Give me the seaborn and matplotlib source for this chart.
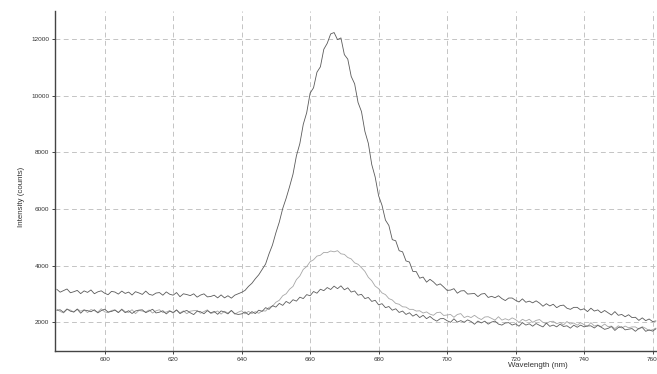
import matplotlib
matplotlib.use("Agg")
import matplotlib.pyplot as plt
import seaborn as sns
import pandas as pd

wavelength = list(range(586, 762))

series_a = [
    3170, 3066, 3123, 3179, 3046, 3082, 3129, 3015, 3112, 3058,
    3145, 3011, 3078, 3114, 3030, 2977, 3094, 3071, 2998, 3105,
    3022, 3069, 2966, 3083, 3040, 2987, 3104, 2991, 2958, 3035,
    3052, 2959, 3076, 2993, 2960, 3053, 2906, 3009, 2982, 2945,
    3008, 2891, 2964, 3007, 2900, 2915, 2960, 2865, 2970, 2865,
    2940, 2855, 2960, 3010, 3060, 3130, 3270, 3380, 3540, 3680,
    3870, 4060, 4420, 4730, 5160, 5540, 6020, 6380, 6790, 7230,
    7880, 8310, 8990, 9400, 10090, 10280, 10830, 11020, 11640, 11850,
    12180, 12230, 11980, 12040, 11450, 11290, 10680, 10420, 9760, 9440,
    8740, 8320, 7570, 7130, 6470, 6130, 5610, 5420, 4920, 4880,
    4530, 4490, 4170, 4130, 3800, 3790, 3560, 3600, 3420, 3520,
    3430, 3310, 3360, 3250, 3130, 3140, 3190, 3030, 3110, 3120,
    3000, 3010, 3020, 2910, 3000, 3020, 2880, 2920, 2870, 2940,
    2840, 2770, 2860, 2860, 2780, 2720, 2830, 2710, 2750, 2690,
    2760, 2680, 2570, 2660, 2580, 2640, 2520, 2590, 2610, 2500,
    2460, 2530, 2530, 2440, 2480, 2380, 2500, 2400, 2440, 2340,
    2420, 2340, 2260, 2380, 2250, 2280, 2200, 2270, 2170, 2180,
    2070, 2160, 2060, 2120, 2030, 2050,
]

series_b = [
    2465, 2385, 2335, 2455, 2435, 2365, 2475, 2395, 2445, 2345,
    2452, 2412, 2362, 2482, 2372, 2342, 2422, 2442, 2352, 2472,
    2379, 2349, 2449, 2309, 2419, 2399, 2369, 2439, 2329, 2409,
    2446, 2346, 2366, 2416, 2326, 2436, 2336, 2406, 2306, 2396,
    2413, 2423, 2323, 2383, 2443, 2313, 2353, 2403, 2293, 2393,
    2330, 2420, 2290, 2360, 2410, 2300, 2390, 2310, 2380, 2320,
    2410, 2400, 2530, 2570, 2710, 2780, 2940, 3010, 3170, 3270,
    3510, 3640, 3870, 3970, 4140, 4210, 4340, 4370, 4470, 4460,
    4520, 4490, 4530, 4420, 4400, 4290, 4240, 4100, 4050, 3930,
    3800, 3590, 3470, 3280, 3190, 3040, 2980, 2840, 2790, 2670,
    2640, 2550, 2540, 2460, 2460, 2400, 2410, 2330, 2370, 2290,
    2250, 2345, 2360, 2245, 2260, 2280, 2180, 2280, 2310, 2170,
    2220, 2170, 2250, 2160, 2100, 2190, 2200, 2140, 2080, 2200,
    2080, 2130, 2080, 2160, 2100, 2000, 2110, 2050, 2110, 2000,
    2070, 2100, 2000, 1960, 2030, 2040, 1950, 2000, 1910, 2030,
    1940, 1980, 1900, 1990, 1920, 1860, 1990, 1870, 1910, 1850,
    1940, 1850, 1870, 1780, 1880, 1800, 1870, 1810, 1840, 1840,
    1760, 1850, 1790, 1710, 1740, 1800,
]

series_c = [
    2425, 2445, 2355, 2475, 2395, 2365, 2465, 2325, 2435, 2415,
    2375, 2445, 2335, 2415, 2465, 2365, 2385, 2435, 2345, 2455,
    2343, 2413, 2313, 2403, 2433, 2443, 2343, 2403, 2463, 2333,
    2360, 2410, 2300, 2400, 2350, 2440, 2310, 2380, 2420, 2340,
    2275, 2395, 2375, 2305, 2415, 2335, 2385, 2285, 2405, 2365,
    2300, 2420, 2310, 2280, 2300, 2370, 2270, 2380, 2310, 2430,
    2390, 2520, 2460, 2590, 2540, 2670, 2600, 2740, 2670, 2800,
    2750, 2890, 2840, 2980, 2940, 3090, 3030, 3170, 3120, 3230,
    3160, 3280, 3190, 3290, 3150, 3220, 3070, 3110, 2960, 2990,
    2840, 2880, 2740, 2780, 2620, 2660, 2520, 2560, 2430, 2480,
    2350, 2400, 2280, 2340, 2220, 2290, 2170, 2250, 2130, 2210,
    2110, 2045, 2130, 2135, 2060, 2003, 2126, 2009, 2062, 2005,
    2088, 2031, 1934, 2047, 1980, 2044, 1938, 2012, 2046, 1940,
    1904, 1978, 1992, 1906, 1950, 1865, 1990, 1905, 1950, 1865,
    1960, 1895, 1840, 1975, 1860, 1906, 1842, 1938, 1854, 1880,
    1796, 1902, 1828, 1904, 1840, 1874, 1878, 1802, 1896, 1830,
    1754, 1788, 1852, 1716, 1820, 1843, 1736, 1759, 1782, 1685,
    1788, 1821, 1684, 1737, 1690, 1773,
]

series_names = ["A", "B", "C"]
x_ticks = [600, 620, 640, 660, 680, 700, 720, 740, 760]
y_ticks = [2000, 4000, 6000, 8000, 10000, 12000]

assert len(series_a) == len(series_b) == len(series_c) == len(wavelength)

df = pd.concat([
    pd.DataFrame({"Wavelength": wavelength, "Intensity": vals, "Series": name})
    for name, vals in zip(series_names, [series_a, series_b, series_c])
], ignore_index=True)

sns.set_style("white")
plt.rcParams["font.family"] = ["Liberation Sans", "DejaVu Sans"]

fig = plt.figure(figsize=(6.57, 3.74), dpi=100)
ax = fig.add_axes([55 / 657, 23 / 374, 602 / 657, 340 / 374])

palette = {"A": "#5a5a5a", "B": "#a6a6a6", "C": "#5e5e5e"}
sns.lineplot(data=df, x="Wavelength", y="Intensity", hue="Series",
             palette=palette, estimator=None, legend=False,
             linewidth=0.6, ax=ax, zorder=3)

ax.set_xlim(585.5, 761.3)
ax.set_ylim(990, 12990)
ax.set_xticks(x_ticks)
ax.set_yticks(y_ticks)
ax.grid(True, color="#c4c4c4", linestyle=(0, (5, 3.5)), linewidth=0.7, zorder=0)

for s in ["top", "right"]:
    ax.spines[s].set_visible(False)
for s in ["left", "bottom"]:
    ax.spines[s].set_color("#444444")
    ax.spines[s].set_linewidth(1.0)

ax.tick_params(axis="both", which="major", labelsize=4.6, length=2.4,
               width=0.7, color="#444444", labelcolor="#333333",
               direction="out", pad=1.8, bottom=True, left=True)

ax.set_xlabel("Wavelength (nm)", fontsize=5.7, color="#333333")
ax.set_ylabel("Intensity (counts)", fontsize=5.7, color="#333333")
ax.xaxis.set_label_coords(0.802, -0.032)
ax.yaxis.set_label_coords(-0.05, 0.453)

fig.savefig("out.png", dpi=100)
